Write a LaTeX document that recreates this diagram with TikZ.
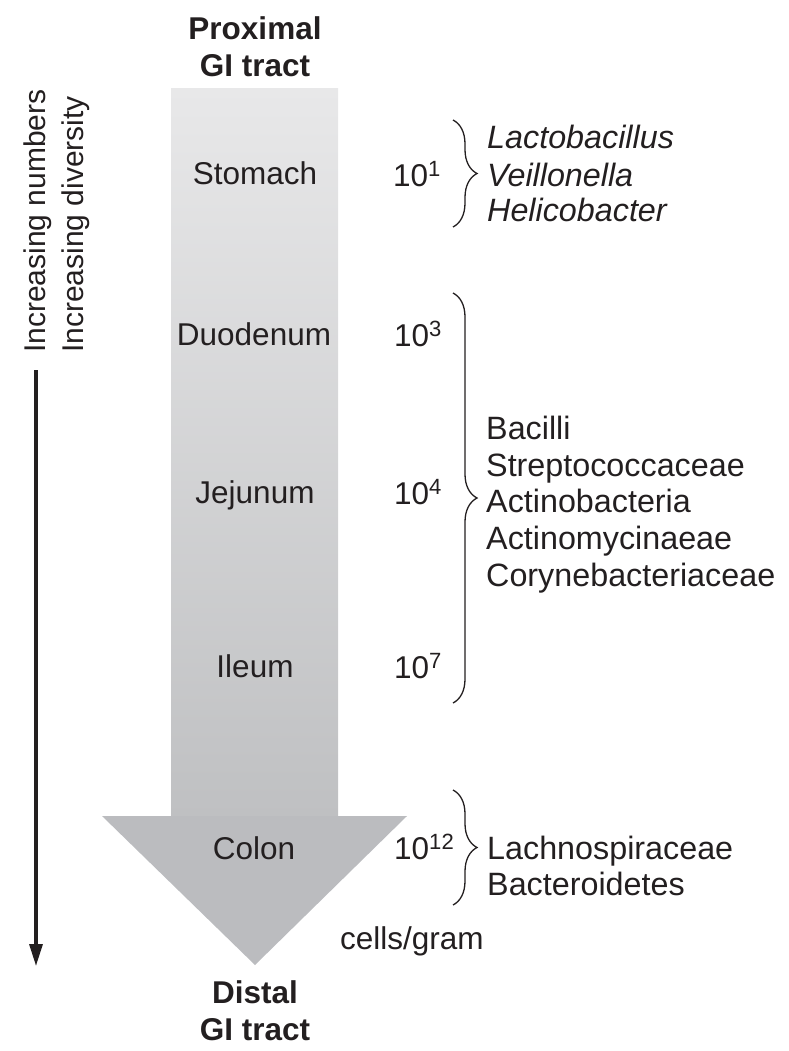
\documentclass[tikz,border=0pt]{standalone}
\usepackage{fontspec}
\setmainfont{Liberation Sans}
\usetikzlibrary{decorations.pathreplacing,arrows.meta}
\definecolor{ink}{HTML}{231F20}
\definecolor{shafttop}{HTML}{E8E8E9}
\definecolor{shaftbot}{HTML}{BFC0C2}
\definecolor{headgray}{HTML}{BBBCBF}
\begin{document}
\begin{tikzpicture}[x=1pt,y=-1pt,
  lbl/.style={font=\fontsize{31.5}{36}\selectfont, text=ink, inner sep=0pt},
  ttl/.style={font=\fontsize{31.5}{36}\selectfont\bfseries, text=ink, inner sep=0pt, anchor=base},
  organ/.style={lbl, anchor=base},
  count/.style={lbl, anchor=base west},
  taxon/.style={font=\fontsize{32.3}{36}\selectfont, text=ink, inner sep=0pt, anchor=base west},
  itaxon/.style={taxon, font=\fontsize{32.3}{36}\selectfont\itshape},
  sidetext/.style={font=\fontsize{30}{36}\selectfont, text=ink, inner sep=0pt, rotate=90, anchor=base west},
  bracebox/.style={decorate, decoration={brace, amplitude=24pt}, draw=ink, line width=1.3pt},
]
\useasboundingbox (0,0) rectangle (788,1051);

% big arrow
\shade[top color=shafttop, bottom color=shaftbot] (171,89) rectangle (338,817);
\fill[headgray] (102,816) -- (407,816) -- (255,965) -- cycle;

% titles
\node[ttl] (prox1) at (255,40) {Proximal};
\node[ttl] (prox2) at (255,77) {GI tract};
\node[ttl] (dist1) at (255,1003) {Distal};
\node[ttl] (dist2) at (255,1040) {GI tract};

% organs
\node[organ] (stomach) at (255,184) {Stomach};
\node[organ] (duodenum) at (254,345) {Duodenum};
\node[organ] (jejunum) at (255,503) {Jejunum};
\node[organ] (ileum) at (255,677) {Ileum};
\node[organ] (colon) at (254,859) {Colon};

% counts
\node[count] (c1) at (393,186) {10\textsuperscript{1}};
\node[count] (c3) at (394,346) {10\textsuperscript{3}};
\node[count] (c4) at (394,504) {10\textsuperscript{4}};
\node[count] (c7) at (394,678) {10\textsuperscript{7}};
\node[count] (c12) at (394,859) {10\textsuperscript{12}};
\node[lbl, anchor=base west] (cells) at (340,949) {cells/gram};

% braces
\coordinate (b1t) at (453,120); \coordinate (b1b) at (453,227);
\coordinate (b2t) at (453,293); \coordinate (b2b) at (453,703);
\coordinate (b3t) at (453,790); \coordinate (b3b) at (453,905);
\draw[bracebox] (b1t) -- (b1b);
\draw[bracebox] (b2t) -- (b2b);
\draw[bracebox] (b3t) -- (b3b);

% taxa
\node[itaxon] (lacto) at (487,149) {Lactobacillus};
\node[itaxon] (veil) at (487,186) {Veillonella};
\node[itaxon] (helico) at (487,221) {Helicobacter};

\node[taxon] (bacilli) at (486,439) {Bacilli};
\node[taxon] (strep) at (486,476) {Streptococcaceae};
\node[taxon] (actino) at (486,512) {Actinobacteria};
\node[taxon] (actmyc) at (486,549) {Actinomycinaeae};
\node[taxon] (coryne) at (486,586) {Corynebacteriaceae};

\node[taxon] (lachno) at (487,859) {Lachnospiraceae};
\node[taxon] (bactero) at (487,895) {Bacteroidetes};

% left arrow and texts
\coordinate (ltop) at (36,370);
\coordinate (lbot) at (36,966);
\draw[ink, line width=3.2pt, -{Triangle[length=22pt,width=13pt]}] (ltop) -- (lbot);
\node[sidetext] (incnum) at (45,353) {Increasing numbers};
\node[sidetext] (incdiv) at (83,353) {Increasing diversity};
\end{tikzpicture}
\end{document}
